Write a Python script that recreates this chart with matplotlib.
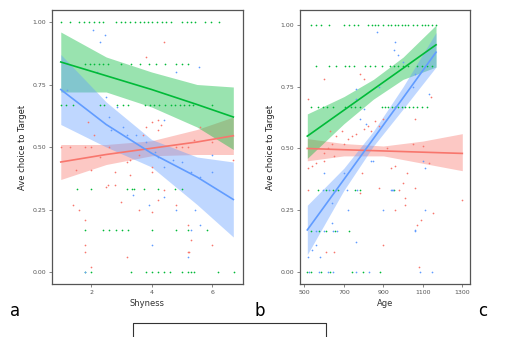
import numpy as np
import matplotlib
matplotlib.use("Agg")
import matplotlib.pyplot as plt
from matplotlib.lines import Line2D

RED = "#F8766D"
GREEN = "#00BA38"
BLUE = "#619CFF"

# ---- panel a : Shyness ----
shy_green_x = [1.0, 1.3, 1.6, 1.78, 1.94, 2.1, 2.25, 2.39, 2.81, 2.98, 3.13, 3.28, 3.44, 3.61, 3.75, 3.88, 4.03, 4.19, 4.33, 4.48, 4.63, 5.01, 5.17, 5.29, 5.43, 5.78, 5.95, 6.22,
               1.8, 1.96, 2.1, 2.26, 2.4, 2.57, 2.99, 3.32, 3.61, 3.91, 4.16, 4.44, 4.82, 5.02, 5.21,
               1.0, 1.17, 1.41, 2.29, 2.44, 2.85, 3.06, 3.23, 3.78, 3.94, 4.08, 4.25, 4.44, 4.63, 4.77, 4.93, 5.08, 5.23, 5.37, 6.0,
               1.53, 2.0, 3.18, 3.34, 3.42, 3.75, 4.21, 4.79, 5.02,
               1.8, 2.4, 2.6, 2.81, 3.01, 3.21, 4.0, 4.8, 5.21, 5.82,
               1.8, 2.0, 3.32, 3.8, 4.0, 4.2, 4.41, 4.6, 5.01, 5.21, 5.29, 5.41, 6.2, 6.72]
shy_green_y = [1.0] * 28 + [0.833] * 15 + [0.667] * 20 + [0.333] * 9 + [0.167] * 10 + [0.0] * 14

shy_blue_x = [2.05, 2.3, 2.45, 5.55, 4.8, 1.2, 2.5, 2.6, 2.85, 3.05, 2.65, 3.2, 3.5, 3.8, 4.1, 4.2, 4.7, 5.0, 5.3,
              5.6, 6.0, 6.0, 4.4, 5.6, 4.8, 4.4, 3.4, 3.9, 4.4, 5.45, 5.2, 1.8, 5.3, 4.0, 2.2]
shy_blue_y = [0.97, 0.92, 0.95, 0.82, 0.80, 0.73, 0.70, 0.62, 0.66, 0.58, 0.57, 0.55, 0.55, 0.52, 0.48, 0.46, 0.45, 0.44, 0.40,
              0.38, 0.47, 0.40, 0.42, 0.19, 0.25, 0.30, 0.31, 0.27, 0.61, 0.25, 0.06, 0.0, 0.17, 0.11, 0.80]

shy_red_x = [1.0, 1.3, 1.8, 2.0, 2.6, 1.5, 2.0, 2.3, 2.55, 2.5, 2.8, 2.8, 3.3, 3.2, 3.3, 3.6, 4.0, 4.0, 3.8, 4.0, 4.2, 4.3,
             4.2, 5.2, 5.4, 5.0, 5.6, 6.0, 6.7, 1.4, 1.6, 1.8, 1.8, 1.8, 2.0, 3.2, 3.0, 3.6, 4.0, 4.2, 4.4, 4.8, 5.2,
             5.2, 5.25, 5.3, 6.0, 4.8, 3.7, 2.1, 1.9, 3.8, 4.4]
shy_red_y = [0.50, 0.50, 0.50, 0.50, 0.50, 0.41, 0.41, 0.46, 0.35, 0.34, 0.35, 0.40, 0.39, 0.44, 0.45, 0.47, 0.42, 0.40, 0.58, 0.60, 0.61, 0.59,
             0.57, 0.50, 0.53, 0.50, 0.58, 0.52, 0.45, 0.27, 0.25, 0.21, 0.11, 0.08, 0.02, 0.06, 0.28, 0.25, 0.24, 0.29, 0.33, 0.27, 0.19,
             0.08, 0.08, 0.13, 0.11, 0.50, 0.55, 0.55, 0.60, 0.86, 0.92]

shy_fit_x = [1.0, 2.5, 4.0, 5.5, 6.7]
shy_green_fit = [0.84, 0.785, 0.73, 0.67, 0.62]
shy_green_lo = [0.72, 0.72, 0.66, 0.58, 0.49]
shy_green_hi = [0.96, 0.86, 0.80, 0.75, 0.74]
shy_blue_fit = [0.73, 0.59, 0.475, 0.38, 0.29]
shy_blue_lo = [0.59, 0.50, 0.42, 0.27, 0.14]
shy_blue_hi = [0.87, 0.68, 0.53, 0.46, 0.44]
shy_red_fit = [0.44, 0.47, 0.495, 0.52, 0.545]
shy_red_lo = [0.37, 0.43, 0.465, 0.47, 0.47]
shy_red_hi = [0.51, 0.51, 0.525, 0.57, 0.62]

# ---- panel b : Age ----
age_green_x = [532, 558, 583, 627, 703, 726, 752, 773, 824, 841, 858, 875, 897, 925, 941, 958, 976, 993, 1010, 1026, 1052, 1069, 1094, 1111, 1128, 1145, 1167,
               558, 625, 660, 706, 728, 752, 807, 833, 858, 892, 934, 954, 976, 1001, 1027, 1069, 1094, 1120, 1145,
               534, 571, 593, 616, 644, 706, 735, 757, 782, 892, 909, 925, 942, 959, 976, 993, 1010, 1032, 1052, 1069, 1094, 1120,
               571, 610, 644, 672, 757, 782, 954,
               534, 574, 610, 655, 726,
               515, 534, 584, 630, 740, 796, 883]
age_green_y = [1.0] * 27 + [0.833] * 19 + [0.667] * 22 + [0.333] * 7 + [0.167] * 5 + [0.0] * 7

age_blue_x = [780, 760, 760, 800, 810, 870, 960, 955, 975, 1000, 1060, 1050, 1130, 1100, 1110, 1110, 1060, 900, 720, 640, 640,
              600, 560, 540, 580, 520, 840, 850, 760, 940, 950, 700, 880,
              593, 627, 660, 715, 768, 942, 558, 600, 644, 664, 1060, 525, 576, 618, 647, 762, 828, 1086, 1148]
age_blue_y = [0.62, 0.70, 0.74, 0.66, 0.60, 0.97, 0.93, 0.90, 0.88, 0.85, 0.80, 0.75, 0.72, 0.45, 0.42, 0.25, 0.17, 0.25, 0.25, 0.20, 0.28,
              0.40, 0.11, 0.09, 0.06, 0.06, 0.45, 0.45, 0.12, 0.33, 0.33, 0.40, 0.75,
              0.333, 0.333, 0.333, 0.333, 0.333, 0.333, 0.167, 0.167, 0.167, 0.167, 0.167, 0.0, 0.0, 0.0, 0.0, 0.0, 0.0, 0.0, 0.0]

age_red_x = [520, 540, 560, 600, 520, 600, 620, 640, 650, 700, 720, 740, 780, 800, 760, 790, 780, 800, 820, 840, 860, 880, 900, 920,
             940, 960, 960, 980, 1000, 1010, 1010, 1020, 1050, 1060, 1070, 1080, 1090, 1100, 1130, 1150, 1300, 1140, 1060, 600,
             630, 660, 880, 900, 610, 650, 520, 690]
age_red_y = [0.42, 0.43, 0.44, 0.45, 0.33, 0.48, 0.50, 0.52, 0.47, 0.52, 0.54, 0.55, 0.80, 0.78, 0.56, 0.40, 0.32, 0.58, 0.59, 0.57, 0.61, 0.59, 0.62, 0.50,
             0.42, 0.43, 0.25, 0.33, 0.36, 0.30, 0.27, 0.40, 0.52, 0.34, 0.19, 0.02, 0.21, 0.51, 0.44, 0.24, 0.29, 0.71, 0.62, 0.78,
             0.57, 0.55, 0.34, 0.11, 0.08, 0.08, 0.70, 0.57]

age_fit_x = [515, 700, 850, 1000, 1167]
age_green_fit = [0.55, 0.655, 0.74, 0.825, 0.92]
age_green_lo = [0.46, 0.60, 0.70, 0.78, 0.83]
age_green_hi = [0.64, 0.71, 0.78, 0.87, 1.00]
age_blue_fit = [0.17, 0.374, 0.54, 0.705, 0.89]
age_blue_lo = [0.07, 0.33, 0.51, 0.66, 0.83]
age_blue_hi = [0.27, 0.42, 0.57, 0.75, 0.97]
age_red_fit_x = [515, 700, 900, 1100, 1300]
age_red_fit = [0.50, 0.495, 0.49, 0.485, 0.48]
age_red_lo = [0.45, 0.47, 0.47, 0.44, 0.41]
age_red_hi = [0.54, 0.52, 0.51, 0.53, 0.56]

y_ticks = [0.0, 0.25, 0.5, 0.75, 1.0]
y_ticklabels = ["0.00", "0.25", "0.50", "0.75", "1.00"]


def draw_panel(ax, series, xlabel, xticks, xlim, ylim):
    for fx, fit, lo, hi, px, py, col in series:
        ax.fill_between(fx, lo, hi, color=col, alpha=0.4, linewidth=0, zorder=1)
        ax.plot(fx, fit, color=col, linewidth=1.2, zorder=3)
        ax.scatter(px, py, s=1.5, color=col, zorder=2, linewidths=0)
    ax.set_xlim(xlim)
    ax.set_ylim(ylim)
    ax.set_xticks(xticks)
    ax.set_xticklabels([str(t) for t in xticks])
    ax.set_yticks(y_ticks)
    ax.set_yticklabels(y_ticklabels)
    ax.tick_params(labelsize=4.5, labelcolor="#555555", color="#555555",
                   length=2, width=0.5, pad=2)
    for sp in ax.spines.values():
        sp.set_color("#555555")
        sp.set_linewidth(0.9)
    ax.set_xlabel(xlabel, fontsize=6, color="#333333", labelpad=3)
    ax.set_ylabel("Ave choice to Target", fontsize=6, color="#222222", labelpad=4)


fig = plt.figure(figsize=(5.23, 3.37), dpi=100)
ax1 = fig.add_axes([52 / 523, 1 - 284 / 337, 191 / 523, 274 / 337])
ax2 = fig.add_axes([300 / 523, 1 - 284 / 337, 170 / 523, 274 / 337])

draw_panel(ax1, [
    (shy_fit_x, shy_red_fit, shy_red_lo, shy_red_hi, shy_red_x, shy_red_y, RED),
    (shy_fit_x, shy_green_fit, shy_green_lo, shy_green_hi, shy_green_x, shy_green_y, GREEN),
    (shy_fit_x, shy_blue_fit, shy_blue_lo, shy_blue_hi, shy_blue_x, shy_blue_y, BLUE),
], "Shyness", [2, 4, 6], (0.71, 7.02), (-0.048, 1.048))

draw_panel(ax2, [
    (age_red_fit_x, age_red_fit, age_red_lo, age_red_hi, age_red_x, age_red_y, RED),
    (age_fit_x, age_green_fit, age_green_lo, age_green_hi, age_green_x, age_green_y, GREEN),
    (age_fit_x, age_blue_fit, age_blue_lo, age_blue_hi, age_blue_x, age_blue_y, BLUE),
], "Age", [500, 700, 900, 1100, 1300], (478, 1339), (-0.049, 1.061))

# panel letters
fig.text(10 / 523, 1 - 311 / 337, "a", fontsize=12, va="center")
fig.text(254 / 523, 1 - 311 / 337, "b", fontsize=12, va="center")
fig.text(478 / 523, 1 - 311 / 337, "c", fontsize=12, va="center")

# box cut off at the bottom
bx = [133 / 523, 133 / 523, 326 / 523, 326 / 523]
by = [0, 1 - 323 / 337, 1 - 323 / 337, 0]
fig.add_artist(Line2D(bx, by, color="#333333", linewidth=0.8))

fig.savefig("out.png", dpi=100)
